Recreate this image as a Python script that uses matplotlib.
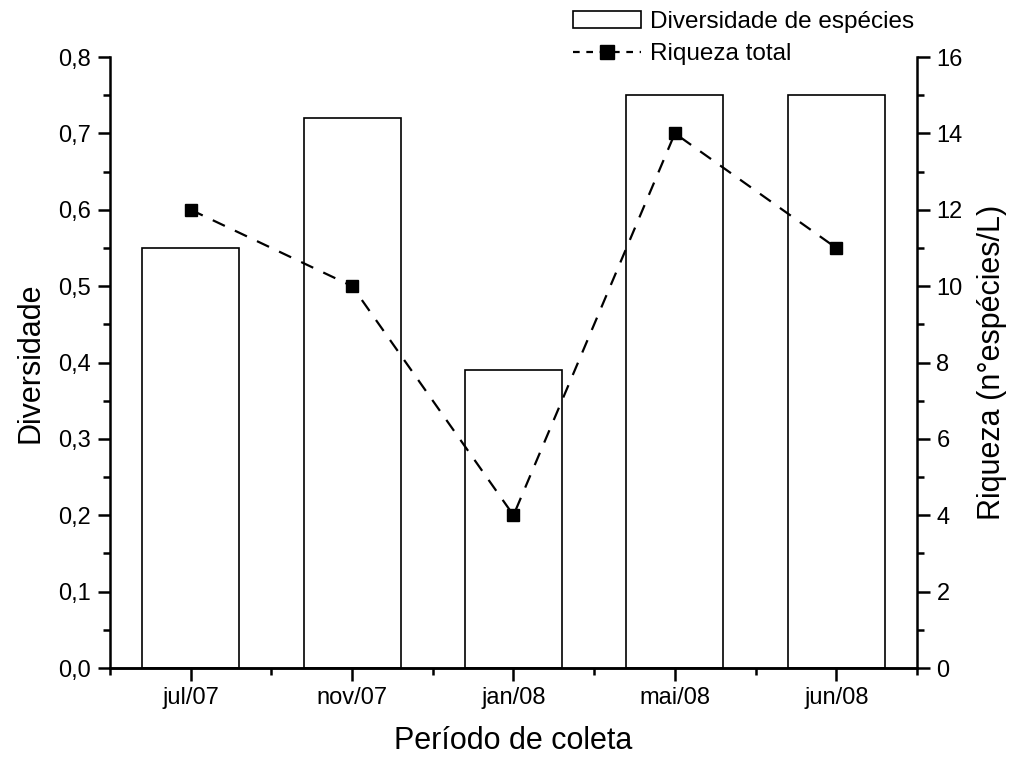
import matplotlib.pyplot as plt
from matplotlib.ticker import MultipleLocator, FuncFormatter

plt.rcParams['font.family'] = ['Liberation Sans', 'DejaVu Sans']

periodos = ['jul/07', 'nov/07', 'jan/08', 'mai/08', 'jun/08']
diversidade = [0.55, 0.72, 0.39, 0.75, 0.75]
riqueza = [12, 10, 4, 14, 11]

fig = plt.figure(figsize=(10.1, 7.58), dpi=100)
ax = fig.add_axes([0.1089, 0.1187, 0.7990, 0.8061])
x = list(range(len(periodos)))

bars = ax.bar(x, diversidade, width=0.6, facecolor='white', edgecolor='black',
              linewidth=1.2, label='Diversidade de espécies')
ax.set_xlim(-0.5, 4.5)
ax.set_ylim(0, 0.8)
ax.set_xticks(x)
ax.set_xticklabels(periodos)
ax.xaxis.set_minor_locator(MultipleLocator(0.5))
ax.yaxis.set_major_locator(MultipleLocator(0.1))
ax.yaxis.set_minor_locator(MultipleLocator(0.05))
ax.yaxis.set_major_formatter(FuncFormatter(lambda v, p: f'{v:.1f}'.replace('.', ',')))
ax.set_ylabel('Diversidade', fontsize=22)
ax.set_xlabel('Período de coleta', fontsize=22)
ax.yaxis.set_label_coords(-0.080, 0.5)
ax.xaxis.set_label_coords(0.5, -0.095)

ax2 = ax.twinx()
line, = ax2.plot(x, riqueza, color='black', linestyle=(0, (6, 5)), linewidth=1.6,
                 marker='s', markersize=9, label='Riqueza total')
ax2.set_ylim(0, 16)
ax2.yaxis.set_major_locator(MultipleLocator(2))
ax2.yaxis.set_minor_locator(MultipleLocator(1))
ax2.set_ylabel('Riqueza (n°espécies/L)', fontsize=22)
ax2.yaxis.set_label_coords(1.074, 0.5)

for a in (ax, ax2):
    a.spines['top'].set_visible(False)
    for s in a.spines.values():
        s.set_linewidth(1.8)
    a.tick_params(which='major', length=9, width=1.8, labelsize=17, pad=5)
    a.tick_params(which='minor', length=5, width=1.8)
ax.spines['right'].set_visible(False)
ax2.spines['left'].set_visible(False)

leg = fig.legend([bars, line], ['Diversidade de espécies', 'Riqueza total'],
                 loc='upper left', bbox_to_anchor=(0.550, 1.008), frameon=False,
                 fontsize=17.5, handlelength=2.8, handletextpad=0.4, labelspacing=0.42,
                 borderaxespad=0.3)
leg.get_lines()[0].set_linestyle((0, (3, 3)))
leg.get_lines()[0].set_markersize(10)

fig.savefig('out.png', dpi=100)
